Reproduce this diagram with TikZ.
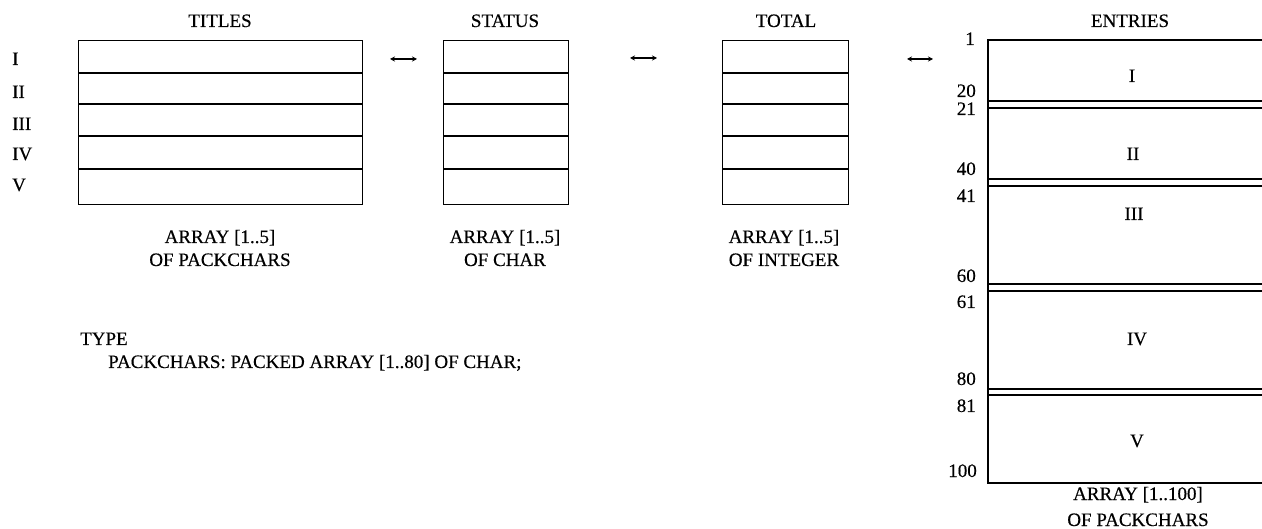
\documentclass[tikz,border=0pt]{standalone}
\usepackage{fontspec}
\setmainfont{Liberation Serif}[UprightFeatures={FakeBold=0.4}]
\usetikzlibrary{arrows.meta}
\begin{document}
\begin{tikzpicture}[x=1pt,y=-1pt,
  font=\fontsize{19}{22}\selectfont,
  box/.style={draw, line width=1.3pt, inner sep=0pt, anchor=north west},
  rowline/.style={line width=1.3pt},
  lbl/.style={inner sep=0pt, anchor=base},
  rlbl/.style={inner sep=0pt, anchor=base west},
  num/.style={inner sep=0pt, anchor=base east},
  arr/.style={{Stealth[length=5pt,width=5pt]}-{Stealth[length=5pt,width=5pt]}, line width=1.2pt}]
\useasboundingbox (0,0) rectangle (1262,529);

% --- TITLES ---
\node[lbl] (tTitles) at (220,27) {TITLES};
\node[box, minimum width=284pt, minimum height=164pt] (titles) at (78,40) {};
\foreach \yy in {73,104,136,169} \draw[rowline] (titles.west |- 0,\yy) -- (titles.east |- 0,\yy);
\node[rlbl] (r1) at (12,65) {I};
\node[rlbl] (r2) at (12,98) {II};
\node[rlbl] (r3) at (12,130) {III};
\node[rlbl] (r4) at (12,160) {IV};
\node[rlbl] (r5) at (12,191) {V};
\node[lbl] (titlesA) at (220,243) {ARRAY [1..5]};
\node[lbl] (titlesB) at (220,266) {OF PACKCHARS};

% --- STATUS ---
\node[lbl] (tStatus) at (505,27) {STATUS};
\node[box, minimum width=125pt, minimum height=164pt] (status) at (443,40) {};
\foreach \yy in {73,104,136,169} \draw[rowline] (status.west |- 0,\yy) -- (status.east |- 0,\yy);
\node[lbl] (statusA) at (505,243) {ARRAY [1..5]};
\node[lbl] (statusB) at (505,266) {OF CHAR};

% --- TOTAL ---
\node[lbl] (tTotal) at (786,27) {TOTAL};
\node[box, minimum width=126pt, minimum height=164pt] (total) at (722,40) {};
\foreach \yy in {73,104,136,169} \draw[rowline] (total.west |- 0,\yy) -- (total.east |- 0,\yy);
\node[lbl] (totalA) at (784,243) {ARRAY [1..5]};
\node[lbl] (totalB) at (784,266) {OF INTEGER};

% --- arrows ---
\coordinate (a1l) at (390,59); \coordinate (a1r) at (417,59);
\coordinate (a2l) at (630,58); \coordinate (a2r) at (657,58);
\coordinate (a3l) at (907,59); \coordinate (a3r) at (933,59);
\draw[arr] (a1l) -- (a1r);
\draw[arr] (a2l) -- (a2r);
\draw[arr] (a3l) -- (a3r);

% --- ENTRIES ---
\node[lbl] (tEntries) at (1130,27) {ENTRIES};
\coordinate (eTL) at (988,40);
\coordinate (eBL) at (988,483);
\draw[rowline] (1263,40) -- (eTL) -- (eBL) -- (1263,483);
\foreach \yy in {101,108,179,186,284,291,389,395} \draw[rowline] (988,\yy) -- (1263,\yy);
\node[num] (n1) at (975,45) {1};
\node[num] (n20) at (976,97) {20};
\node[num] (n21) at (976,115) {21};
\node[num] (n40) at (976,175) {40};
\node[num] (n41) at (976,202) {41};
\node[num] (n60) at (976,282) {60};
\node[num] (n61) at (976,308) {61};
\node[num] (n80) at (976,385) {80};
\node[num] (n81) at (976,412) {81};
\node[num] (n100) at (977,477) {100};
\node[lbl] (eI) at (1132,82) {I};
\node[lbl] (eII) at (1133,160) {II};
\node[lbl] (eIII) at (1134,220) {III};
\node[lbl] (eIV) at (1137,345) {IV};
\node[lbl] (eV) at (1137,447) {V};
\node[lbl] (entA) at (1138,500) {ARRAY [1..100]};
\node[lbl] (entB) at (1138,526) {OF PACKCHARS};

% --- TYPE ---
\node[rlbl] (type1) at (80,345) {TYPE};
\node[rlbl] (type2) at (108,368) {PACKCHARS: PACKED ARRAY [1..80] OF CHAR;};
\end{tikzpicture}
\end{document}
